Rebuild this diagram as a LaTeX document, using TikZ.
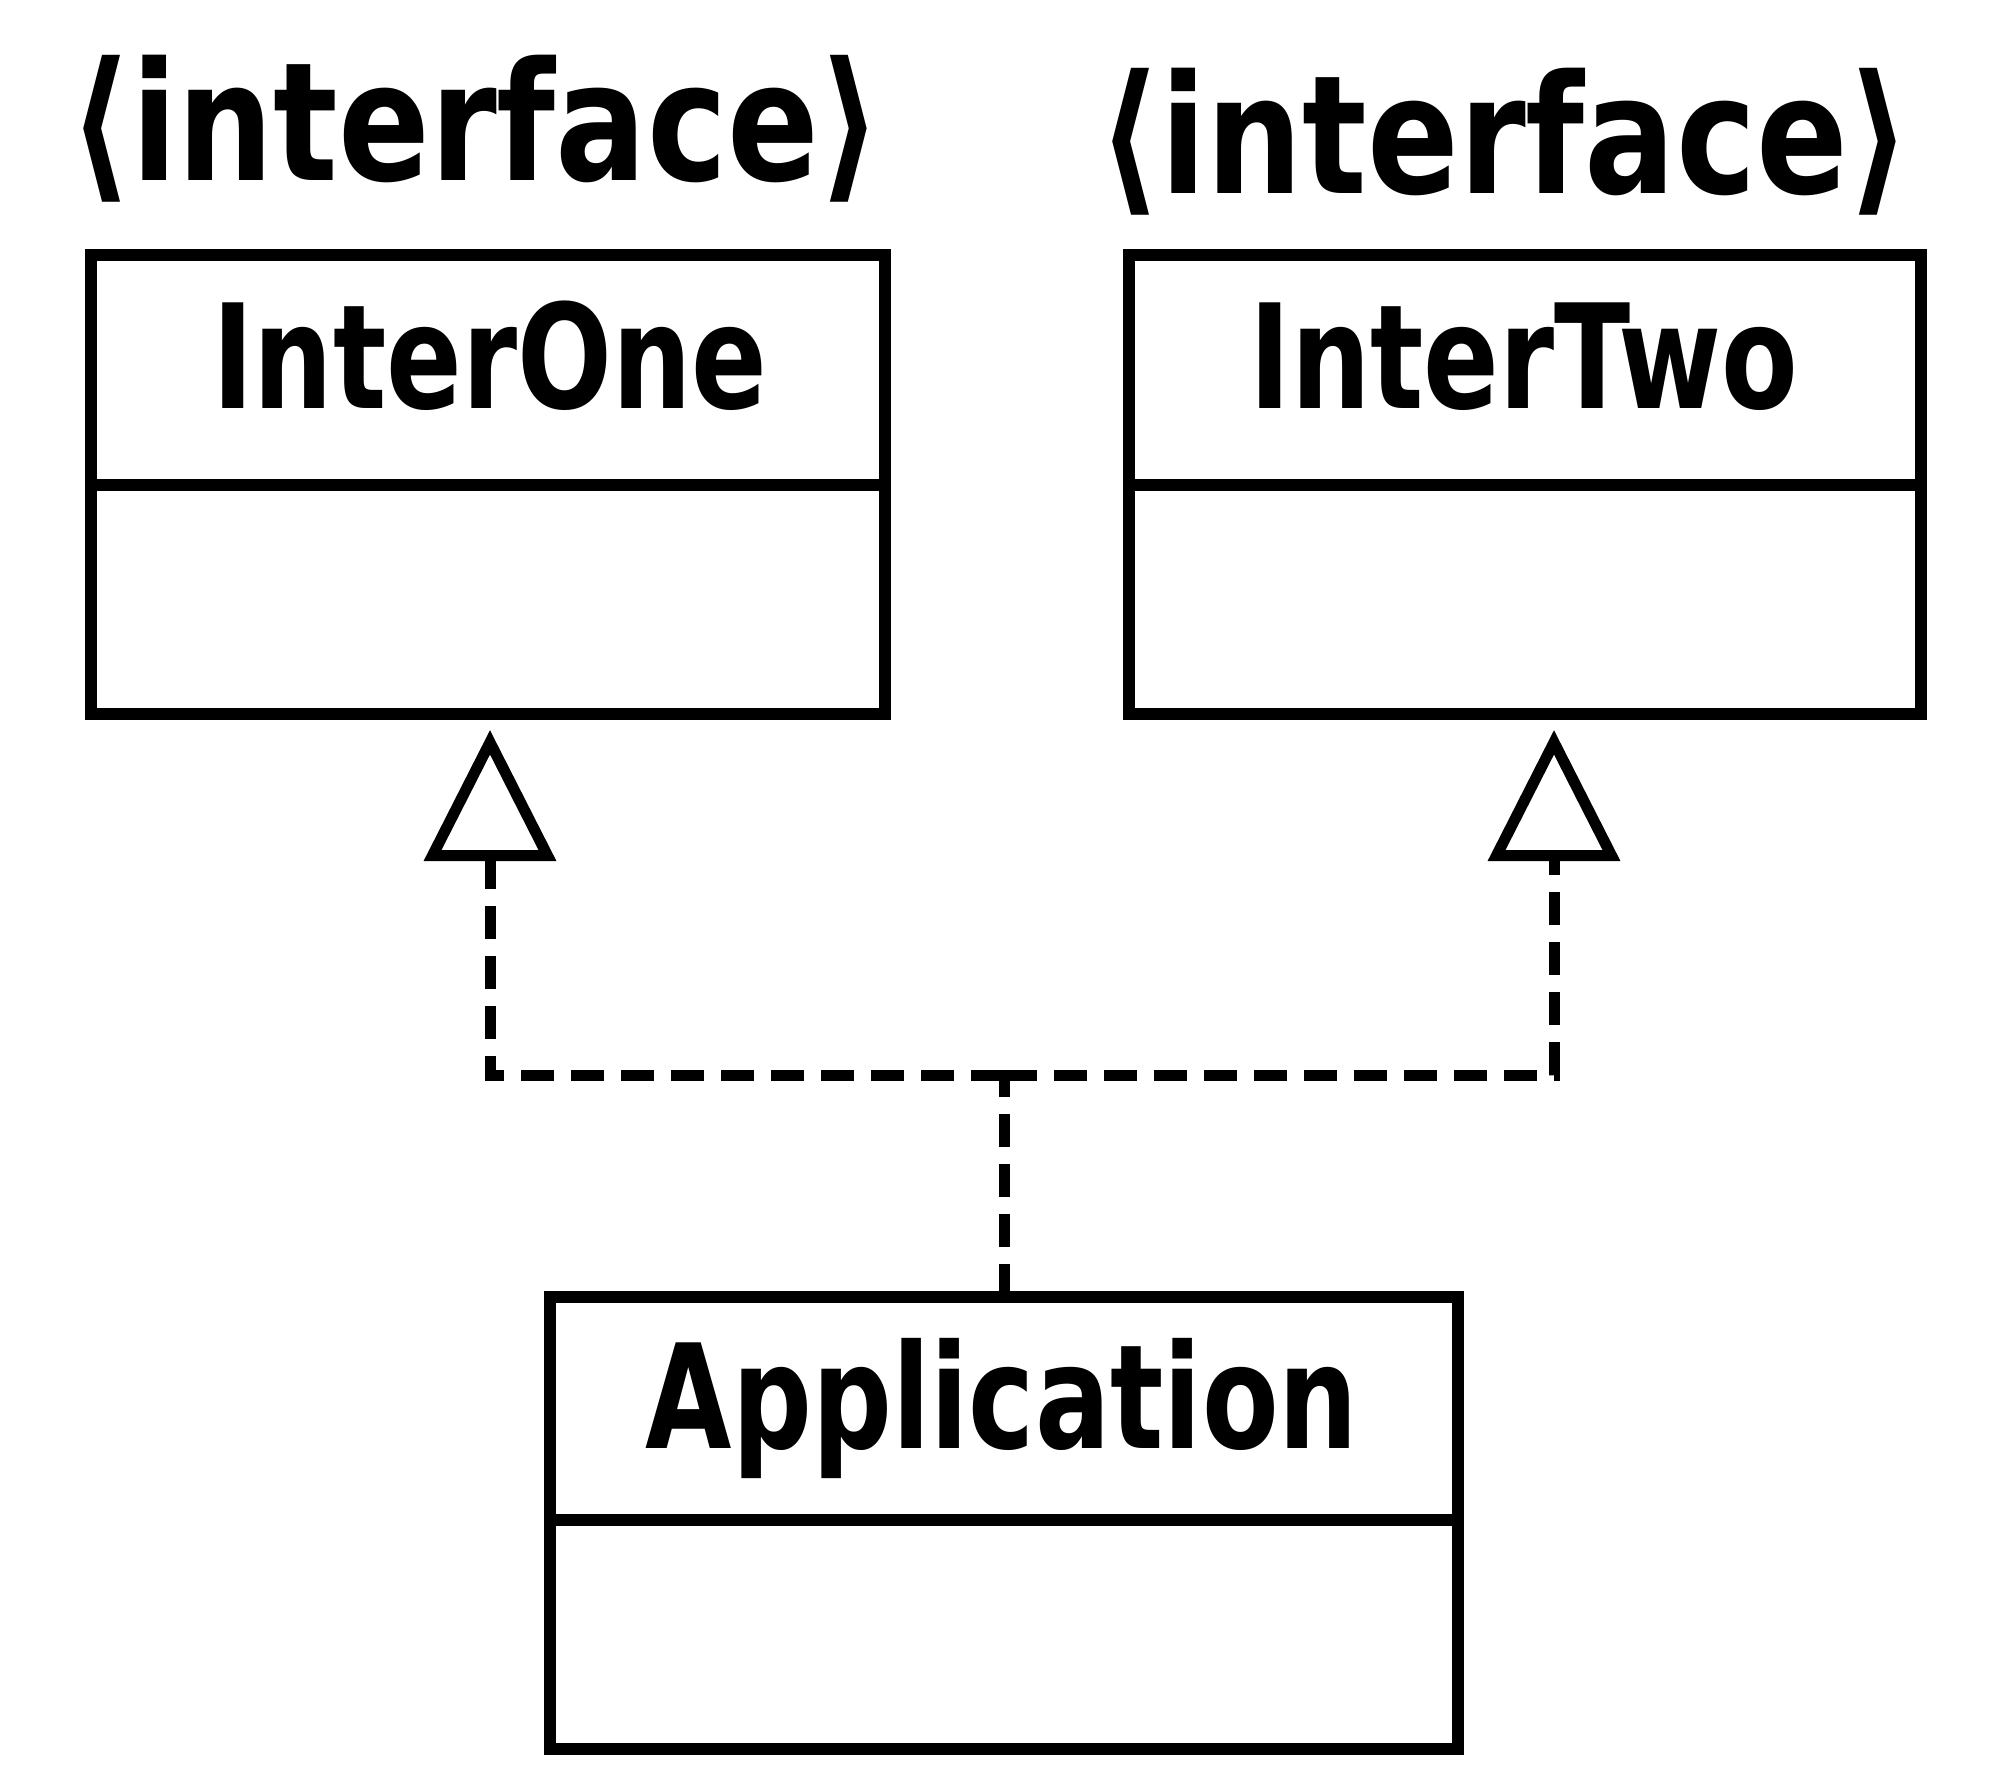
\documentclass[tikz,border=0pt]{standalone}
\usepackage{fontspec}
\newfontfamily\clsfont[FakeStretch=0.77]{DejaVu Sans}
\newfontfamily\lblfont[FakeStretch=0.82]{DejaVu Sans}
\usetikzlibrary{arrows.meta}
\begin{document}
\begin{tikzpicture}[x=1pt,y=-1pt,
  part/.style={draw,line width=12.5pt,inner sep=0pt,outer sep=0pt,anchor=north west},
  clsname/.style={anchor=base,inner sep=0pt,font=\clsfont\bfseries\fontsize{145}{150}\selectfont},
  stereo/.style={anchor=base,inner sep=0pt,font=\lblfont\bfseries\fontsize{165}{170}\selectfont},
  dashline/.style={line width=11pt,dash pattern=on 33pt off 17pt},
  realize/.style={dashline,
    -{Triangle[open,length=131pt,width=130pt,line width=11pt]}}]
\useasboundingbox (0,0) rectangle (2000,1789);
% InterOne
\node[part,minimum width=794pt,minimum height=230pt] (oneH) at (91,255) {};
\node[part,minimum width=794pt,minimum height=229pt] (oneB) at (91,485) {};
\node[clsname] (oneT) at (490,408) {InterOne};
\node[stereo] (oneS) at (475,180) {⟨interface⟩};
% InterTwo
\node[part,minimum width=792pt,minimum height=230pt] (twoH) at (1129,255) {};
\node[part,minimum width=792pt,minimum height=229pt] (twoB) at (1129,485) {};
\node[clsname] (twoT) at (1524,408) {InterTwo};
\node[stereo] (twoS) at (1504,193) {⟨interface⟩};
% Application
\node[part,minimum width=908pt,minimum height=223pt] (appH) at (550,1297) {};
\node[part,minimum width=908pt,minimum height=229pt] (appB) at (550,1520) {};
\node[clsname] (appT) at (1002,1448) {Application};
% connectors
\coordinate (j) at (1004,1075);
\draw[dashline] (appH.north) -- (j);
\draw[realize,shorten >=16pt] (j) -| ([xshift=2pt]oneB.south);
\draw[realize,shorten >=16pt] (j) -| ([xshift=29pt]twoB.south);
\end{tikzpicture}
\end{document}
